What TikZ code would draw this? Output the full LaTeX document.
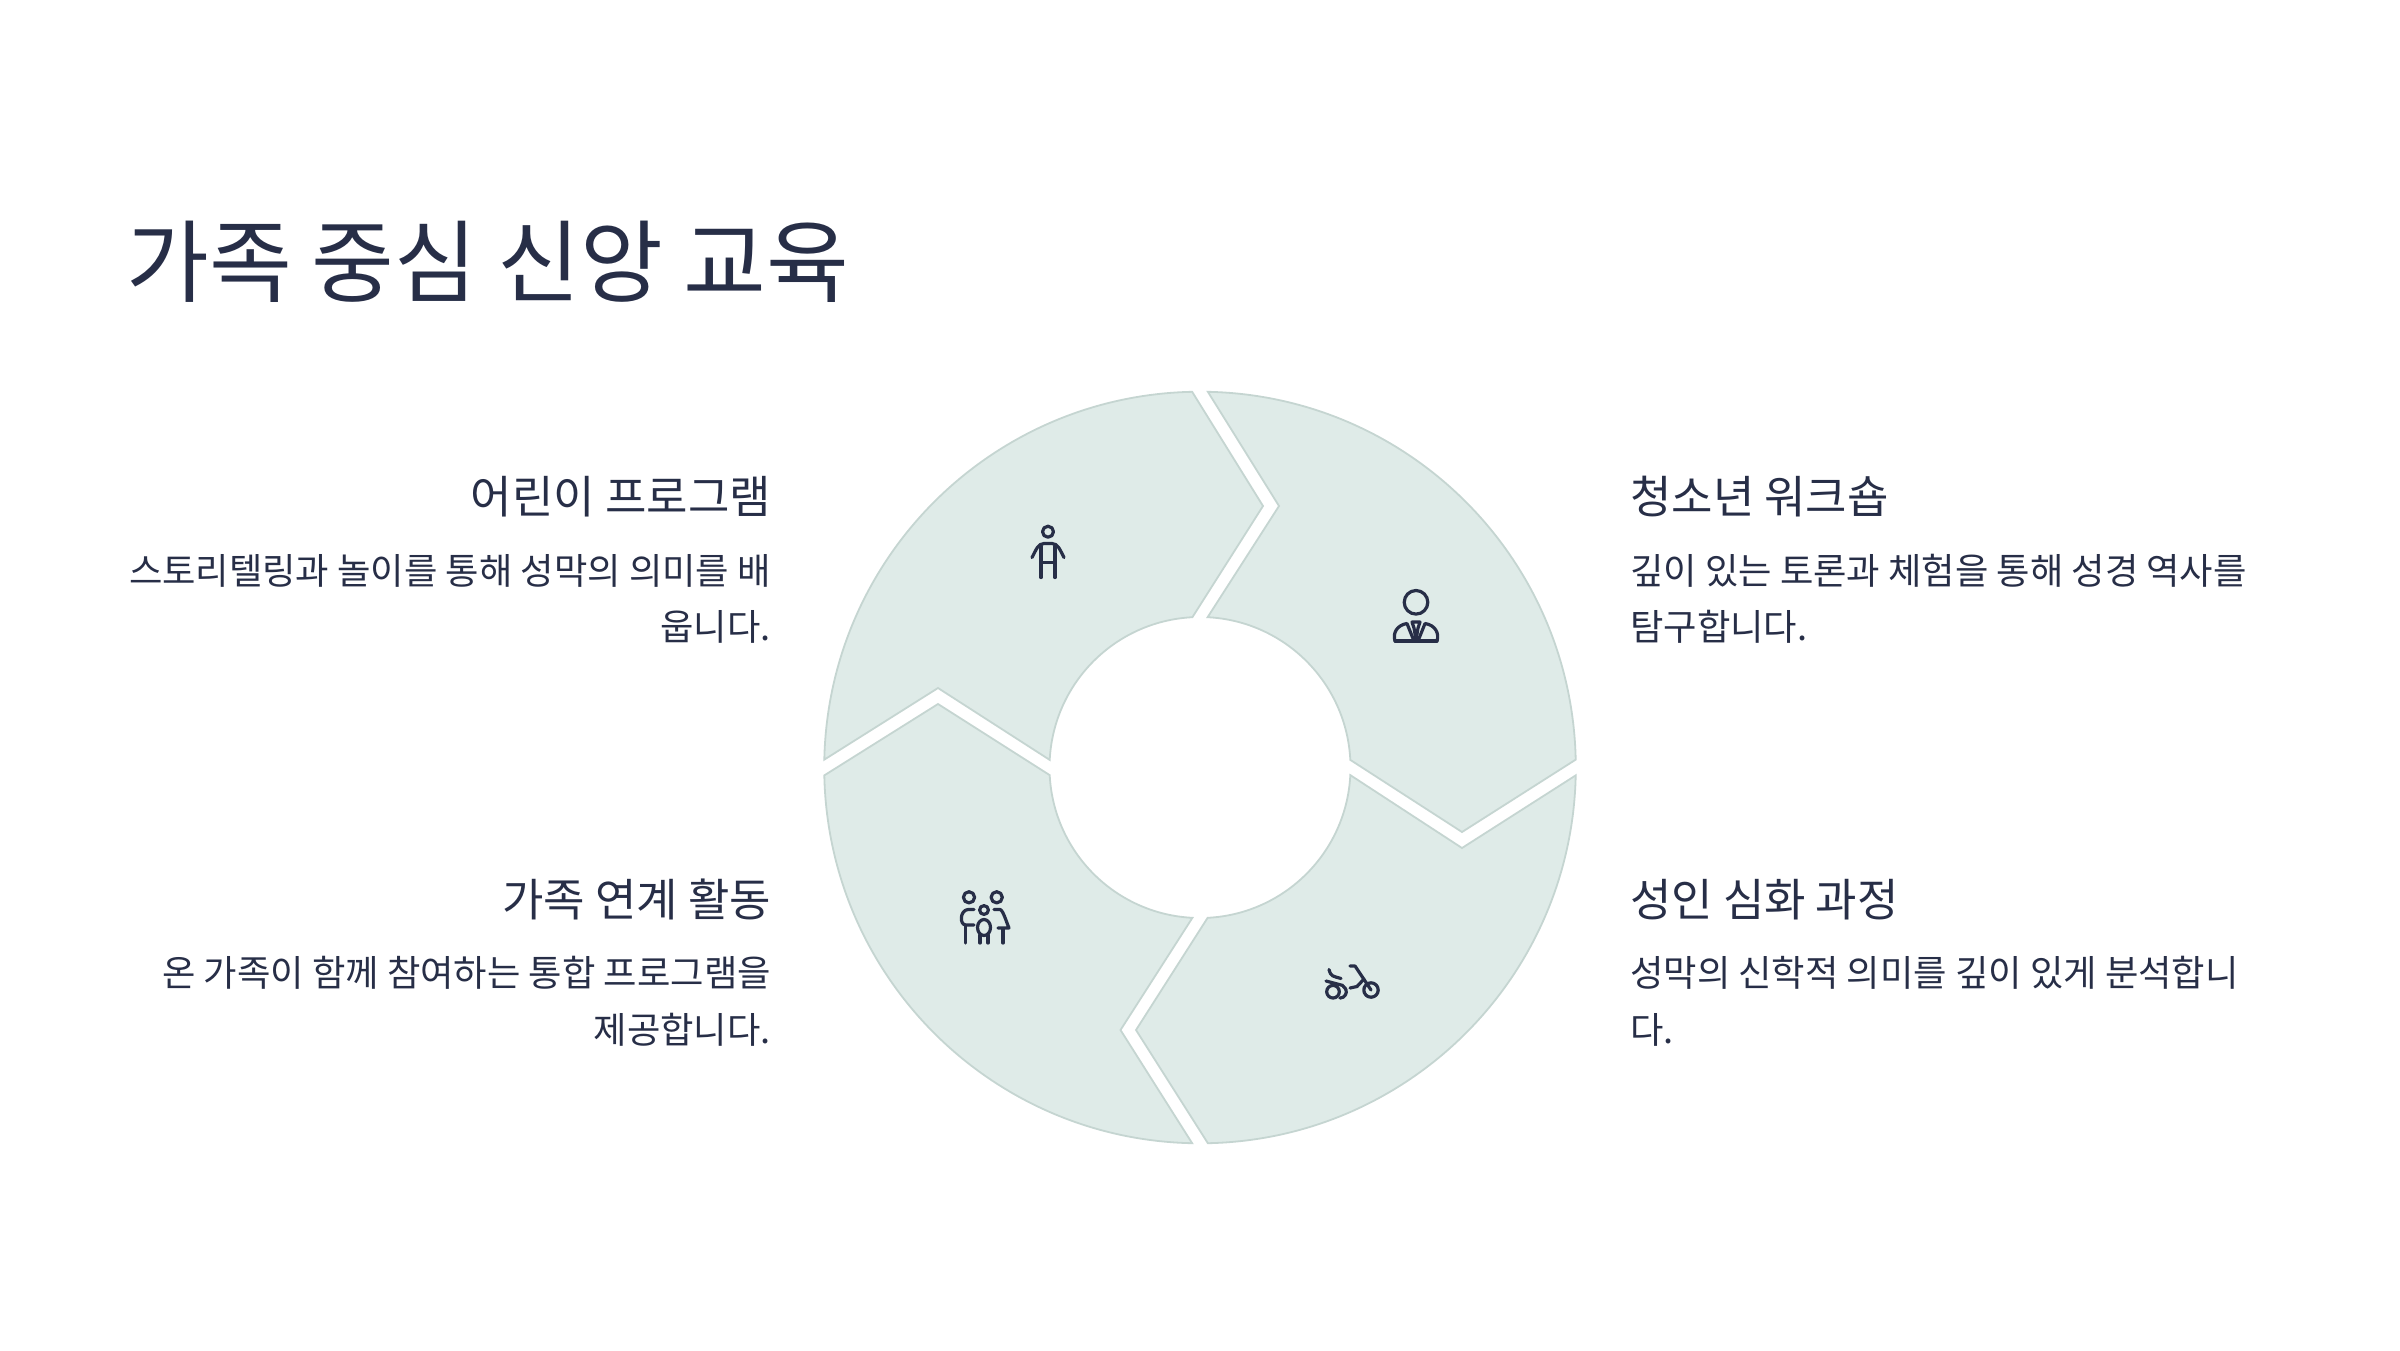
\documentclass[tikz,border=0pt]{standalone}
\usepackage{fontspec}
\setmainfont{Noto Sans CJK KR}
\definecolor{ink}{HTML}{272E47}
\definecolor{petal}{HTML}{DFEBE8}
\definecolor{petaledge}{HTML}{C5D5D1}
\newcommand{\ringpiece}[8]{%
  \draw[piece] ($(1200,767.5)+(#1:375.8)$) arc[start angle=#1,end angle=#2,radius=375.8]
    -- (#3,#4) -- ($(1200,767.5)+(#5:150.5)$) arc[start angle=#5,end angle=#6,radius=150.5]
    -- (#7,#8) -- cycle;}
\usetikzlibrary{calc}
\tikzset{
  x=1pt,y=-1pt,
  piece/.style={fill=petal,draw=petaledge,line width=1.8pt,line join=miter},
  icon/.style={draw=ink,line width=3.2pt,line cap=round,line join=round},
  titletext/.style={inner sep=0pt,text=ink,font=\fontsize{90}{90}\selectfont},
  headtext/.style={inner sep=0pt,text=ink,font=\fontsize{45}{45}\selectfont},
  bodytext/.style={inner sep=0pt,text=ink,font=\fontsize{36.3}{36.3}\selectfont},
}
\begin{document}
\begin{tikzpicture}
\useasboundingbox (0,0) rectangle (2400,1350);
\fill[white] (0,0) rectangle (2400,1350);
\ringpiece{181.2}{268.8}{1263}{506}{267.1}{182.9}{938}{688}
\ringpiece{271.2}{358.8}{1462}{832}{357.1}{272.9}{1279}{506}
\ringpiece{1.2}{88.8}{1136}{1030}{87.1}{2.9}{1462}{848}
\ringpiece{91.2}{178.8}{938}{704}{177.1}{92.9}{1120.5}{1030}

\node[titletext,anchor=base west] (title) at (126,295) {가족 중심 신앙 교육};

\node[headtext,anchor=base east] (h1) at (771,513) {어린이 프로그램};
\node[bodytext,anchor=base east] (b1a) at (771,584) {스토리텔링과 놀이를 통해 성막의 의미를 배};
\node[bodytext,anchor=base east] (b1b) at (771,640) {웁니다.};
\node[headtext,anchor=base east] (h2) at (771,916) {가족 연계 활동};
\node[bodytext,anchor=base east] (b2a) at (771,986) {온 가족이 함께 참여하는 통합 프로그램을};
\node[bodytext,anchor=base east] (b2b) at (771,1043) {제공합니다.};
\node[headtext,anchor=base west] (h3) at (1630,513) {청소년 워크숍};
\node[bodytext,anchor=base west] (b3a) at (1630,584) {깊이 있는 토론과 체험을 통해 성경 역사를};
\node[bodytext,anchor=base west] (b3b) at (1630,640) {탐구합니다.};
\node[headtext,anchor=base west] (h4) at (1630,916) {성인 심화 과정};
\node[bodytext,anchor=base west] (b4a) at (1630,986) {성막의 신학적 의미를 깊이 있게 분석합니};
\node[bodytext,anchor=base west] (b4b) at (1630,1043) {다.};

% child
\draw[icon] (1048,531.7) circle[radius=5.5];
\draw[icon] (1032,557.5) .. controls (1036,550) and (1038,543.5) .. (1044,543.5) -- (1052,543.5) .. controls (1058,543.5) and (1060,550) .. (1064,557.5);
\draw[icon] (1041,546) -- (1041,577.5) (1055,546) -- (1055,577.5) (1041,562.7) -- (1055,562.7);
% adult
\draw[icon] (1416,602.3) circle[radius=11.8];
\draw[icon] (1395,641) .. controls (1392.5,633) and (1397,625) .. (1407,623.5) -- (1414,641);
\draw[icon] (1437,641) .. controls (1439.5,633) and (1435,625) .. (1425,623.5) -- (1418,641);
\draw[icon] (1395,641) -- (1437,641);
\draw[icon] (1412,622) -- (1420,622) -- (1418,628) -- (1416,640) -- (1414,628) -- cycle;
% family
\draw[icon] (969,897.3) circle[radius=5.6];
\draw[icon] (996.7,897.3) circle[radius=5.6];
\draw[icon] (984,910) circle[radius=4.4];
\draw[icon] (974,909.5) -- (968,909.5) .. controls (960,910) and (959,925) .. (966,925) -- (974,925);
\draw[icon] (965.5,926) -- (965.5,943);
\draw[icon] (994,909.5) -- (1000,909.5) .. controls (1003,910) and (1006,921) .. (1009,928) -- (998,928);
\draw[icon] (1003,929) -- (1003,943);
\draw[icon] (984,927.5) circle[x radius=6.5,y radius=8];
\draw[icon] (980,935) -- (980,943) (988,935) -- (988,943);
% bike
\draw[icon] (1371,990) circle[radius=7.2];
\draw[icon] (1333,991.7) circle[radius=6.3];
\draw[icon] (1343.1,986.3) arc[start angle=-60,end angle=90,radius=6.3];
\draw[icon] (1326,981) -- (1343,985.5);
\draw[icon] (1329,969.5) .. controls (1331,977) and (1333,976) .. (1341,978.5);
\draw[icon] (1350,988) -- (1357,986.5) -- (1364,979);
\draw[icon] (1350,966) -- (1355,966) -- (1371,990);
\end{tikzpicture}
\end{document}
